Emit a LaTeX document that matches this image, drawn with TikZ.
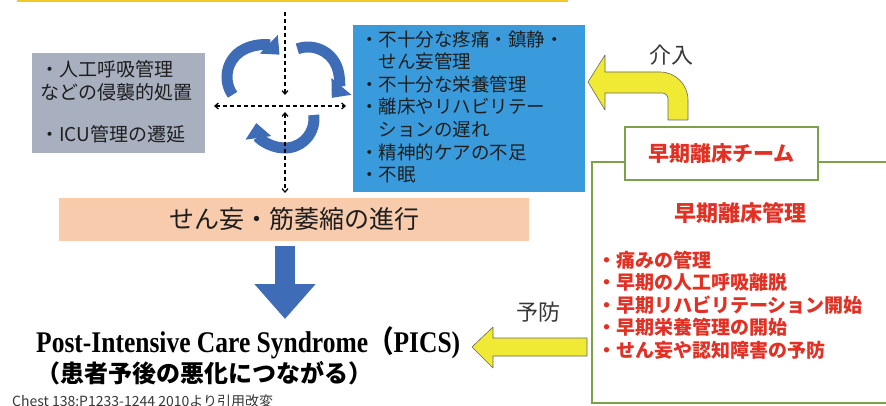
\documentclass[tikz,border=0pt]{standalone}
\usepackage{fontspec}
\usepackage{graphicx}
\usetikzlibrary{arrows.meta}
\setmainfont{Liberation Serif}
\newfontfamily\jp{Noto Sans CJK JP}
\definecolor{gboxc}{RGB}{168,176,192}
\definecolor{bboxc}{RGB}{58,155,220}
\definecolor{salmonc}{RGB}{248,203,173}
\definecolor{arrowblue}{RGB}{62,108,183}
\definecolor{yelc}{RGB}{240,234,52}
\definecolor{goldc}{RGB}{242,200,40}
\definecolor{grnc}{RGB}{125,160,75}
\definecolor{redt}{RGB}{226,48,36}
\definecolor{darkt}{RGB}{30,30,30}
\definecolor{greyt}{RGB}{55,55,55}
\begin{document}
\begin{tikzpicture}[x=1pt,y=-1pt,
  fs/.style={font=\jp\fontsize{#1}{#1}\selectfont},
  fsb/.style={font=\jp\bfseries\fontsize{#1}{#1}\selectfont},
  ln/.style={anchor=base west, inner sep=0pt},
  cyc/.style={line width=11pt, draw=arrowblue, -{Triangle[width=25pt,length=15pt]}},
  dsh/.style={line width=1.2pt, dash pattern=on 4pt off 3pt, draw=black},
  yarrow/.style={fill=yelc, draw=black!60, line width=0.6pt, line join=round}
]
\useasboundingbox (0,0) rectangle (886,406);
\fill[white] (0,0) rectangle (886,406);
\fill[goldc] (17,0) rectangle (568,2.5);

% grey box
\node[fill=gboxc, minimum width=173pt, minimum height=100pt, anchor=north west, inner sep=0pt] (gray) at (32,53) {};
\node[ln, fs=19, text=darkt] (g1) at (40,77) {・人工呼吸管理};
\node[ln, fs=19, text=darkt] (g2) at (40,100) {などの侵襲的処置};
\node[ln, fs=19, text=darkt] (g3) at (40,142) {・ICU管理の遷延};

% blue box
\node[fill=bboxc, minimum width=232pt, minimum height=167pt, anchor=north west, inner sep=0pt] (blue) at (353,25) {};
\node[ln, fs=18.5, text=darkt] (b1) at (360,47) {・不十分な疼痛・鎮静・};
\node[ln, fs=18.5, text=darkt] (b2) at (378.5,69) {せん妄管理};
\node[ln, fs=18.5, text=darkt] (b3) at (360,92) {・不十分な栄養管理};
\node[ln, fs=18.5, text=darkt] (b4) at (360,114) {・離床やリハビリテー};
\node[ln, fs=18.5, text=darkt] (b5) at (378.5,137) {ションの遅れ};
\node[ln, fs=18.5, text=darkt] (b6) at (360,160) {・精神的ケアの不足};
\node[ln, fs=18.5, text=darkt] (b7) at (360,182) {・不眠};

% cycle arrows
\draw[cyc] (258,77) ++(145:31) arc[start angle=145, end angle=314, radius=31];
\draw[cyc] (308,78) ++(250:31) arc[start angle=250, end angle=400, radius=31];
\draw[cyc] (285,119) ++(-8:29) arc[start angle=-8, end angle=172, radius=29];

% dashed cross
\coordinate (vt) at (285,12);
\coordinate (vc) at (285,95);
\coordinate (vb1) at (285,112);
\coordinate (vb2) at (285,193);
\coordinate (hl) at (214,106);
\coordinate (hr) at (346,106);
\draw[dsh, -{Straight Barb[length=3.5pt,width=6pt]}] (vt) -- (vc);
\draw[dsh, {Straight Barb[length=3.5pt,width=6pt]}-{Straight Barb[length=3.5pt,width=6pt]}] (vb1) -- (vb2);
\draw[dsh, {Straight Barb[length=3.5pt,width=6pt]}-{Straight Barb[length=3.5pt,width=6pt]}] (hl) -- (hr);

% salmon box
\node[fill=salmonc, minimum width=470pt, minimum height=43pt, inner sep=0pt, fs=25, text=darkt] (delir) at (294,219.5) {せん妄・筋萎縮の進行};

% blue down arrow
\coordinate (da1) at (285,246);
\coordinate (da2) at (285,319);
\draw[line width=20pt, draw=arrowblue, -{Triangle[width=59pt,length=35pt]}] (da1) -- (da2);

% PICS text
\node[ln, font=\bfseries\fontsize{30}{30}\selectfont, text=black] (pics) at (36,352)
  {\scalebox{0.85}[1]{Post-Intensive Care Syndrome{\jp\bfseries （}PICS)}};
\node[ln, fsb=24, text=black] (pics2) at (36,382) {（患者予後の悪化につながる）};
\node[ln, fs=14, text=greyt] (cite) at (12,406) {Chest 138:P1233-1244 2010より引用改変};

% big green box (right side cut off)
\draw[grnc, line width=1.5pt] (886,162) -- (592,162) -- (592,403) -- (886,403);
\node[draw=grnc, line width=1.8pt, fill=white, minimum width=193pt, minimum height=53pt, inner sep=0pt, fsb=21, text=redt] (team) at (721.5,153.5) {早期離床チーム};
\node[fsb=22, text=redt, inner sep=0pt] (mt) at (740,213) {早期離床管理};
\node[ln, fsb=19, text=redt] (r1) at (597,267) {・痛みの管理};
\node[ln, fsb=19, text=redt] (r2) at (597,289.5) {・早期の人工呼吸離脱};
\node[ln, fsb=19, text=redt] (r3) at (597,312) {・早期リハビリテーション開始};
\node[ln, fsb=19, text=redt] (r4) at (597,334.5) {・早期栄養管理の開始};
\node[ln, fsb=19, text=redt] (r5) at (597,357) {・せん妄や認知障害の予防};

% bent yellow arrow (intervention)
\draw[yarrow] (588,82) -- (605,55) -- (605,72) -- (660,72)
  arc[start angle=270, end angle=360, radius=28] -- (688,120) -- (668,120) -- (668,99)
  arc[start angle=0, end angle=-90, radius=6] -- (605,93) -- (605,110) -- cycle;
\node[fs=22, text=greyt, inner sep=0pt] (kainyu) at (671,55) {介入};

% left yellow arrow (prevention)
\draw[yarrow] (472,347) -- (493,327) -- (493,338) -- (587,338) -- (587,356) -- (493,356) -- (493,368) -- cycle;
\node[fs=22, text=greyt, inner sep=0pt] (yobo) at (538,312) {予防};
\end{tikzpicture}
\end{document}
